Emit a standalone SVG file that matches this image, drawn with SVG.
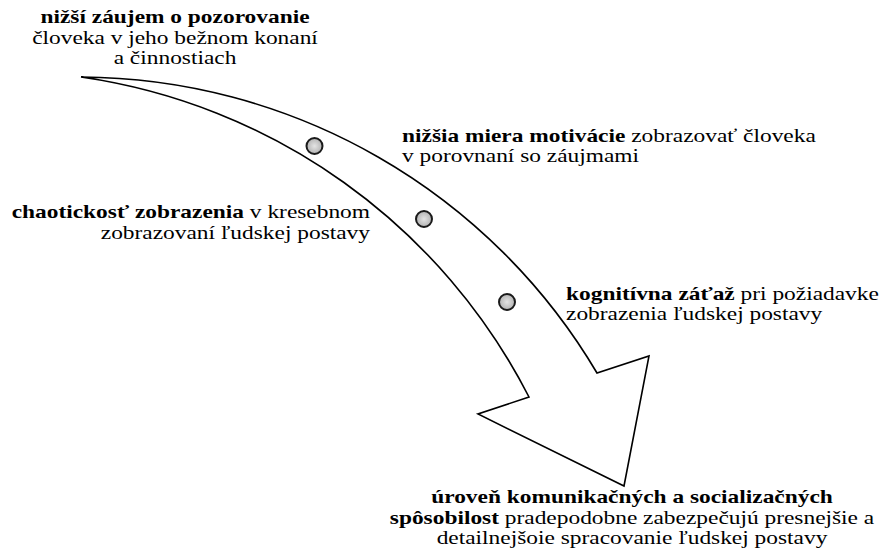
<svg xmlns="http://www.w3.org/2000/svg" width="884" height="548" viewBox="0 0 884 548">
<defs>
<radialGradient id="dotfill" cx="0.5" cy="0.5" r="0.6">
<stop offset="0" stop-color="#e4e4e4"/>
<stop offset="1" stop-color="#a9a9a9"/>
</radialGradient>
</defs>
<style>
text{font-family:"Liberation Serif","Times New Roman",serif;font-size:18px;fill:#000}
.b{font-weight:bold}
.dot{fill:url(#dotfill);stroke:#1a1a1a;stroke-width:2}
.arrow{fill:#fff;stroke:#000;stroke-width:1.6;stroke-linejoin:miter}
</style>
<rect width="884" height="548" fill="#fff"/>
<g id="connectors">
<path class="arrow" d="M 81 77 A 603 603 0 0 1 597 373 L 649 356 L 624 486 L 478 414 L 529 397 A 599 599 0 0 0 81 77 Z"/>
</g>
<g id="dots">
<circle class="dot" cx="314.5" cy="146" r="8"/>
<circle class="dot" cx="424" cy="219" r="8"/>
<circle class="dot" cx="507" cy="302" r="8"/>
</g>
<g id="node-start" transform="translate(175,0) scale(1.3,1)">
<text x="0" y="23" text-anchor="middle" class="b">nižší záujem o pozorovanie</text>
<text x="0" y="44" text-anchor="middle">človeka v jeho bežnom konaní</text>
<text x="0" y="64" text-anchor="middle">a činnostiach</text>
</g>
<g id="node-motivation" transform="translate(402,0) scale(1.3,1)">
<text x="0" y="142"><tspan class="b">nižšia miera motivácie</tspan> zobrazovať človeka</text>
<text x="0" y="162">v porovnaní so záujmami</text>
</g>
<g id="node-chaos" transform="translate(370,0) scale(1.3,1)">
<text x="0" y="218" text-anchor="end"><tspan class="b">chaotickosť zobrazenia</tspan> v kresebnom</text>
<text x="0" y="239" text-anchor="end">zobrazovaní ľudskej postavy</text>
</g>
<g id="node-cognitive" transform="translate(566,0) scale(1.3,1)">
<text x="0" y="300"><tspan class="b">kognitívna záťaž</tspan> pri požiadavke</text>
<text x="0" y="320">zobrazenia ľudskej postavy</text>
</g>
<g id="node-end" transform="translate(632,0) scale(1.3,1)">
<text x="0" y="503" text-anchor="middle" class="b">úroveň komunikačných a socializačných</text>
<text x="0" y="524" text-anchor="middle"><tspan class="b">spôsobilost</tspan> pradepodobne zabezpečujú presnejšie a</text>
<text x="0" y="544" text-anchor="middle">detailnejšoie spracovanie ľudskej postavy</text>
</g>
</svg>
